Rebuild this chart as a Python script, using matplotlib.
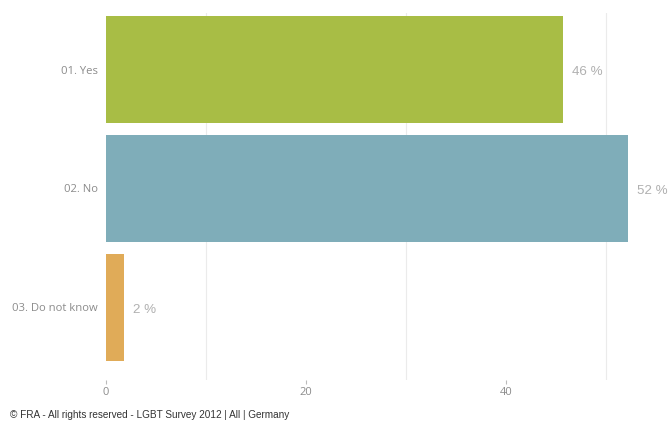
import matplotlib
matplotlib.use('Agg')
import matplotlib.pyplot as plt

# data
categories = ['01. Yes', '02. No', '03. Do not know']
values = [45.7, 52.2, 1.8]
colors = ['#a8bd45', '#7fadb9', '#e0ab58']
x_ticks = [0, 20, 40]
grid_x = [10, 30, 50]
footer = '© FRA - All rights reserved - LGBT Survey 2012 | All | Germany'

fig = plt.figure(figsize=(6.69, 4.24), dpi=100)
ax = fig.add_axes([106 / 669, 1 - 380 / 424, 550 / 669, 367 / 424])

ypos = list(range(len(categories)))
ax.barh(ypos, values, height=0.9, color=colors, zorder=2)

for y, v in zip(ypos, values):
    ax.text(v + 0.9, y + 0.02, f'{round(v)} %', va='center', ha='left', fontsize=9.6,
            color='#b0b0b0', family='Liberation Sans')

ax.set_xlim(0, 55)
ax.set_ylim(2.61, -0.475)
ax.set_yticks(ypos)
ax.set_yticklabels(categories, family='Open Sans', fontsize=8.1, color='#8c8c8c')
ax.set_xticks(x_ticks)
ax.set_xticklabels([str(t) for t in x_ticks], family='Open Sans', fontsize=8, color='#8c8c8c')
ax.tick_params(axis='y', length=0, pad=6)
ax.tick_params(axis='x', length=3, color='#bbbbbb', pad=2, direction='out')

for g in grid_x:
    ax.axvline(g, color='#ebebeb', lw=0.8, zorder=1)

for s in ax.spines.values():
    s.set_visible(False)

fig.text(10 / 669, 1 - 415 / 424, footer, fontsize=7.2, color='#333333',
         family='Liberation Sans', va='center', ha='left')

plt.savefig('out.png', dpi=100)
plt.close()
